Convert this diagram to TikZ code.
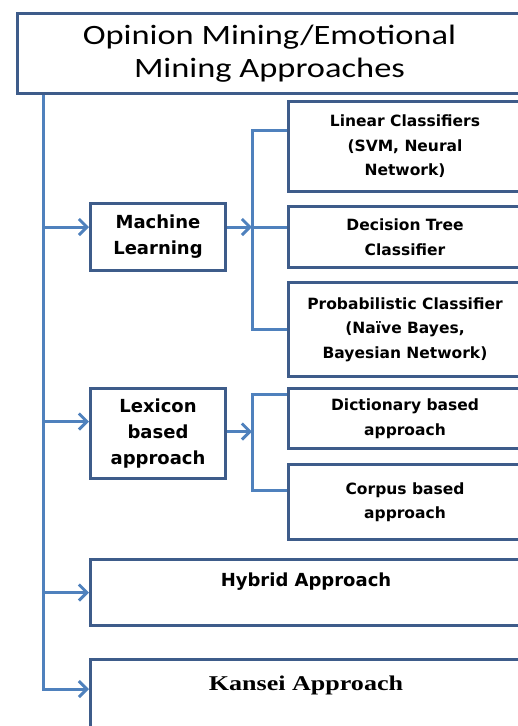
\documentclass[tikz,border=0pt]{standalone}
\usepackage{fontspec}
\usepackage{tikz}
\usetikzlibrary{arrows.meta}
\newfontfamily\titlefont[FakeStretch=1.23]{Carlito}
\newfontfamily\boxfont{DejaVu Sans}
\newfontfamily\serifbox[FakeStretch=1.24]{Liberation Serif}
\definecolor{boxblue}{RGB}{62,92,138}
\definecolor{linkblue}{RGB}{79,129,189}
\tikzset{
  box/.style={
    draw=boxblue,
    line width=3pt,
    fill=white,
    align=center,
    inner sep=0pt,
    anchor=north west,
    font=\boxfont\bfseries\fontsize{15.5}{24.5}\selectfont
  },
  midbox/.style={box, font=\boxfont\bfseries\fontsize{18}{26}\selectfont},
  titlebox/.style={box, font=\titlefont\fontsize{28}{33}\selectfont},
  link/.style={draw=linkblue, line width=3pt},
  arrow/.style={link, -{Straight Barb[length=8pt,width=16pt,line width=3pt]}}
}

\begin{document}
\begin{tikzpicture}[x=1pt, y=-1pt]
  \useasboundingbox (0,0) rectangle (518,726);
  \clip (0,0) rectangle (518,726);
  % boxes
  \node[titlebox, minimum width=504, minimum height=80] (title) at (16,12)
    {Opinion Mining/Emotional\\Mining Approaches};
  \node[midbox, minimum width=135, minimum height=67] (ml) at (89,202) {Machine\\Learning};
  \node[box, minimum width=233, minimum height=90] (lin) at (287,100)
    {Linear Classifiers\\(SVM, Neural\\Network)};
  \node[box, minimum width=233, minimum height=61] (dec) at (287,205)
    {Decision Tree\\Classifier};
  \node[box, minimum width=233, minimum height=94] (prob) at (287,281)
    {Probabilistic Classifier\\(Naïve Bayes,\\Bayesian Network)};
  \node[midbox, minimum width=135, minimum height=90] (lex) at (89,387)
    {Lexicon\\based\\approach};
  \node[box, minimum width=233, minimum height=60] (dict) at (287,387)
    {Dictionary based\\approach};
  \node[box, minimum width=233, minimum height=75] (corp) at (287,463)
    {Corpus based\\approach};
  \node[midbox, minimum width=431, text height=27, text depth=39] (hyb) at (89,558)
    {Hybrid Approach};
  \node[box, minimum width=431, text height=31, text depth=75,
    font=\serifbox\bfseries\fontsize{21}{26}\selectfont] (kan) at (89,658)
    {Kansei Approach};
  % connector ends
  \coordinate (trunk) at (43,0);
  \coordinate (mlbus) at (252,0);
  \coordinate (mlin) at ([yshift=10pt]ml.west);
  \coordinate (mlout) at ([yshift=10pt]ml.east);
  \coordinate (lexin) at ([yshift=12pt]lex.west);
  \coordinate (lexout) at ([yshift=2pt]lex.east);
  \coordinate (linin) at ([yshift=16pt]lin.west);
  \coordinate (dictin) at ([yshift=24pt]dict.west);
  \coordinate (corpin) at ([yshift=12pt]corp.west);
  \coordinate (kanin) at ([yshift=-31pt]kan.north west);
  % trunk
  \draw[arrow] (title.south -| trunk) |- (kanin);
  \draw[arrow] (trunk |- mlin) -- (mlin);
  \draw[arrow] (trunk |- lexin) -- (lexin);
  \draw[arrow] (trunk |- hyb.west) -- (hyb.west);
  % machine learning branch
  \draw[arrow] (mlout) -- (mlout -| mlbus);
  \draw[link] (linin) -| (mlbus |- prob.west) -- (prob.west);
  \draw[link] (mlout -| mlbus) -- (mlout -| dec.west);
  % lexicon branch
  \draw[arrow] (lexout) -- (lexout -| mlbus);
  \draw[link] (dictin) -| (mlbus |- corpin) -- (corpin);
\end{tikzpicture}
\end{document}
